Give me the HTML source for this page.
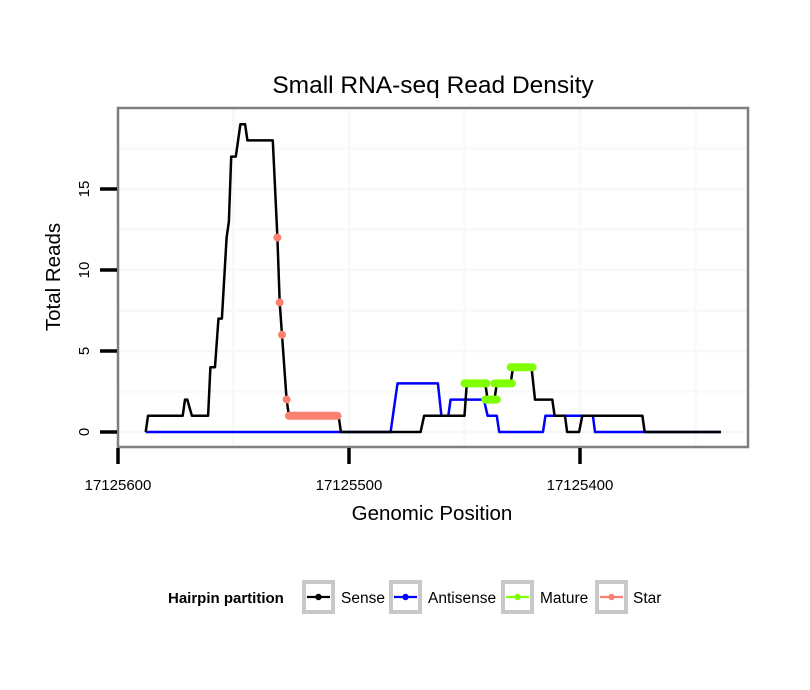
<!DOCTYPE html>
<html><head><meta charset="utf-8"><style>
body{margin:0;background:#fff;}
svg{display:block;font-family:"Liberation Sans",Arial,sans-serif;}
</style></head><body>
<svg id="chart" width="810" height="690" viewBox="0 0 810 690" xmlns="http://www.w3.org/2000/svg">
<rect x="0" y="0" width="810" height="690" fill="#fff"/>
<text x="433" y="93" font-size="24.5" text-anchor="middle" fill="#000">Small RNA-seq Read Density</text>
<g id="grid"></g>
<g id="series"></g>
<rect x="118" y="108" width="630" height="339" fill="none" stroke="#7f7f7f" stroke-width="2.5"/>
<g id="axes"></g>
<text x="432" y="520" font-size="20.5" text-anchor="middle">Genomic Position</text>
<text transform="translate(60,277) rotate(-90)" font-size="20.5" text-anchor="middle">Total Reads</text>
<g>
<text x="168" y="603" font-size="15" font-weight="bold">Hairpin partition</text>
<g>
<rect x="304" y="582" width="29" height="30" fill="#fff" stroke="#c8c8c8" stroke-width="4"/>
<line x1="307" y1="597" x2="330" y2="597" stroke="#000" stroke-width="2.2"/><circle cx="318.5" cy="597" r="3.2" fill="#000"/>
<text x="341" y="603" font-size="15.5">Sense</text></g>
<g>
<rect x="391" y="582" width="29" height="30" fill="#fff" stroke="#c8c8c8" stroke-width="4"/>
<line x1="394" y1="597" x2="417" y2="597" stroke="#0000ff" stroke-width="2.2"/><circle cx="405.5" cy="597" r="3.2" fill="#0000ff"/>
<text x="428" y="603" font-size="15.5">Antisense</text></g>
<g>
<rect x="503" y="582" width="29" height="30" fill="#fff" stroke="#c8c8c8" stroke-width="4"/>
<line x1="506" y1="597" x2="529" y2="597" stroke="#7fff00" stroke-width="2.2"/><circle cx="517.5" cy="597" r="3.2" fill="#7fff00"/>
<text x="540" y="603" font-size="15.5">Mature</text></g>
<g>
<rect x="597" y="582" width="29" height="30" fill="#fff" stroke="#c8c8c8" stroke-width="4"/>
<line x1="600" y1="597" x2="623" y2="597" stroke="#fa8072" stroke-width="2.2"/><circle cx="611.5" cy="597" r="3.2" fill="#fa8072"/>
<text x="633" y="603" font-size="15.5">Star</text></g>
</g>
</svg>
<script>
const xTicks=[17125600,17125500,17125400];
const xMinor=[17125550,17125450,17125350];
const yTicks=[0,5,10,15];
const yMinor=[2.5,7.5,12.5,17.5];
const sensePos=[17125588,17125587,17125572,17125571,17125570,17125568,17125561,17125560,17125558,17125557,17125556.5,17125555,17125553,17125552,17125551,17125549,17125547,17125545,17125544,17125533,17125531,17125530,17125529,17125527,17125526,17125504.5,17125503.5,17125469,17125467.5,17125450,17125449,17125441,17125440,17125437,17125436,17125430,17125429,17125421,17125419.5,17125412,17125411,17125406.5,17125405.6,17125400.4,17125399,17125373,17125372,17125339];
const senseVal=[0,1,1,2,2,1,1,4,4,6,7,7,12,13,17,17,19,19,18,18,12,8,6,2,1,1,0,0,1,1,3,3,2,2,3,3,4,4,2,2,1,1,0,0,1,1,0,0];
const antiPos=[17125588,17125482,17125479,17125461.5,17125460,17125457,17125456,17125441.6,17125440,17125436,17125435,17125416,17125415,17125394.4,17125393.5,17125339];
const antiVal=[0,0,3,3,1,1,2,2,1,1,0,0,1,1,0,0];
const starPointPos=[17125531,17125530,17125529,17125527];
const starPointVal=[12,8,6,2];
const starSegStart=[17125526];
const starSegEnd=[17125505];
const starSegVal=[1];
const matSegStart=[17125450,17125441,17125437,17125430];
const matSegEnd=[17125440.5,17125436,17125429.5,17125420.5];
const matSegVal=[3,2,3,4];

const NS="http://www.w3.org/2000/svg";
function X(p){return 118+(17125600-p)*2.31;}
function Y(v){return 432-v*16.2;}
function mk(tag,attrs,parent){const e=document.createElementNS(NS,tag);for(const k in attrs)e.setAttribute(k,attrs[k]);parent.appendChild(e);return e;}
const grid=document.getElementById('grid'),series=document.getElementById('series'),axes=document.getElementById('axes');
xTicks.concat(xMinor).forEach(p=>{const l=mk('line',{x1:X(p),x2:X(p),y1:108,y2:447,stroke:'#f8f8f8','stroke-width':2.5},grid);

});
yTicks.concat(yMinor).forEach(v=>{const l=mk('line',{x1:118,x2:748,y1:Y(v),y2:Y(v),stroke:'#f8f8f8','stroke-width':2.5},grid);

});
function path(ps,vs,color,name){const d=ps.map((p,i)=>(i?'L':'M')+X(p).toFixed(1)+','+Y(vs[i]).toFixed(1)).join('');
const e=mk('path',{d:d,fill:'none',stroke:color,'stroke-width':2.5,'stroke-linejoin':'round'},series);

}
path(antiPos,antiVal,'#0000ff','antisense-line');
path(sensePos,senseVal,'#000','sense-line');
function seg(s,e2,v,color,name){const l=mk('line',{x1:X(s),x2:X(e2),y1:Y(v),y2:Y(v),stroke:color,'stroke-width':8,'stroke-linecap':'round'},series);

}
starSegStart.forEach((s,i)=>seg(s,starSegEnd[i],starSegVal[i],'#fa8072','star-segment'));
matSegStart.forEach((s,i)=>seg(s,matSegEnd[i],matSegVal[i],'#7fff00','mature-segment'));
starPointPos.forEach((p,i)=>{const c=mk('circle',{cx:X(p),cy:Y(starPointVal[i]),r:4,fill:'#fa8072'},series);

});
xTicks.forEach(p=>{const t=mk('line',{x1:X(p),x2:X(p),y1:448,y2:464,stroke:'#000','stroke-width':3.5},axes);


const tx=mk('text',{x:X(p),y:490,'font-size':15,'text-anchor':'middle'},axes);tx.textContent=p;

});
yTicks.forEach(v=>{const t=mk('line',{x1:100,x2:117,y1:Y(v),y2:Y(v),stroke:'#000','stroke-width':3.5},axes);


const tx=mk('text',{transform:'translate(89,'+Y(v)+') rotate(-90)','font-size':15,'text-anchor':'middle'},axes);tx.textContent=v;

});
</script>
</body></html>
